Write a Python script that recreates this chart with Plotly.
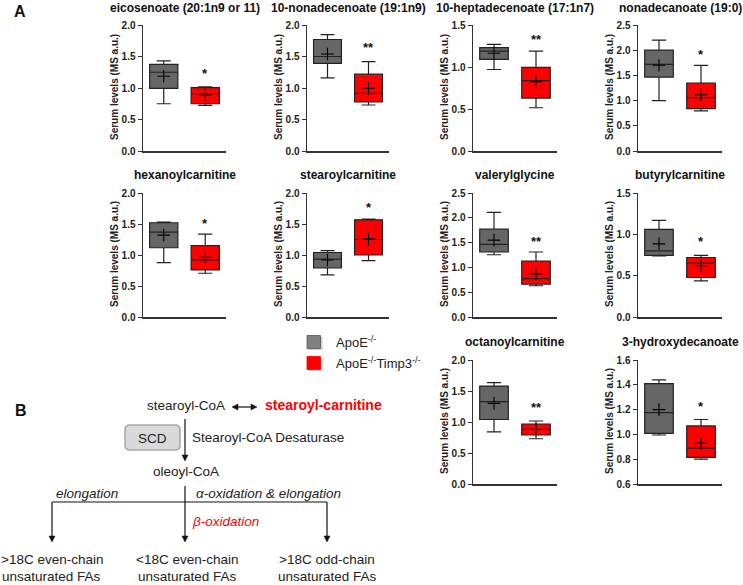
import plotly.graph_objects as go

# ---------------- data ----------------
titles = ["eicosenoate (20:1n9 or 11)", "10-nonadecenoate (19:1n9)", "10-heptadecenoate (17:1n7)",
          "nonadecanoate (19:0)", "hexanoylcarnitine", "stearoylcarnitine", "valerylglycine",
          "butyrylcarnitine", "octanoylcarnitine", "3-hydroxydecanoate"]

# ApoE-/- (grey)
apoe_lower  = [0.75, 1.16, 0.97, 1.00, 0.876, 0.68, 1.255, 0.738, 0.84, 0.995]
apoe_q1     = [0.995, 1.39, 1.09, 1.465, 1.117, 0.79, 1.31, 0.746, 1.04, 1.009]
apoe_median = [1.25, 1.50, 1.19, 1.72, 1.37, 0.935, 1.466, 0.80, 1.33, 1.175]
apoe_q3     = [1.376, 1.77, 1.23, 2.00, 1.52, 1.04, 1.77, 1.06, 1.58, 1.41]
apoe_upper  = [1.43, 1.846, 1.27, 2.20, 1.53, 1.07, 2.11, 1.168, 1.634, 1.439]
apoe_mean   = [1.186, 1.54, 1.163, 1.70, 1.32, 0.92, 1.55, 0.884, 1.30, 1.20]

# ApoE-/-Timp3-/- (red)
dko_lower  = [0.725, 0.73, 0.515, 0.795, 0.706, 0.91, 0.63, 0.438, 0.73, 0.80]
dko_q1     = [0.75, 0.78, 0.63, 0.84, 0.76, 1.00, 0.66, 0.478, 0.79, 0.815]
dko_median = [0.91, 0.915, 0.837, 1.06, 0.92, 1.25, 0.774, 0.653, 0.88, 0.89]
dko_q3     = [1.005, 1.22, 0.996, 1.345, 1.15, 1.567, 1.126, 0.72, 0.968, 1.068]
dko_upper  = [1.02, 1.42, 1.19, 1.70, 1.337, 1.58, 1.31, 0.746, 1.016, 1.12]
dko_mean   = [0.89, 0.995, 0.825, 1.115, 0.963, 1.26, 0.87, 0.62, 0.88, 0.93]

signif   = ["*", "**", "**", "*", "*", "*", "**", "*", "**", "*"]
signif_y = [1.30, 1.71, 1.37, 2.00, 1.58, 1.83, 1.61, 0.965, 1.30, 1.26]

y_min  = [0, 0, 0, 0, 0, 0, 0, 0, 0, 0.6]
y_max  = [2.0, 2.0, 1.5, 2.5, 2.0, 2.0, 2.5, 1.5, 2.0, 1.6]
y_step = [0.5, 0.5, 0.5, 0.5, 0.5, 0.5, 0.5, 0.5, 0.5, 0.2]

y_title = "Serum levels (MS a.u.)"
group_names = ["ApoE<sup>-/-</sup>", "ApoE<sup>-/-</sup>Timp3<sup>-/-</sup>"]

# ---------------- layout helpers ----------------
W, H = 743, 585
def px(x): return x / W
def py(y): return 1 - y / H

FONT = "Liberation Sans, Arial, sans-serif"
col_px = [(143, 226), (307, 389), (473, 557), (638, 722)]
row_px = [(25, 151), (193, 317), (360, 484)]
title_y = [8, 175, 342]
cells = [(0, 0), (0, 1), (0, 2), (0, 3), (1, 0), (1, 1), (1, 2), (1, 3), (2, 2), (2, 3)]

GREY = "#666666"
RED = "#ff0000"
EDGE = "#222222"
AXC = "#333333"

fig = go.Figure()
annotations = []
shapes = []
layout_axes = {}

for i, (r, c) in enumerate(cells):
    n = i + 1
    xa = "x" if n == 1 else f"x{n}"
    ya = "y" if n == 1 else f"y{n}"
    for xpos, col, st in [(0, GREY, (apoe_lower, apoe_q1, apoe_median, apoe_q3, apoe_upper, apoe_mean)),
                          (1, RED, (dko_lower, dko_q1, dko_median, dko_q3, dko_upper, dko_mean))]:
        lo, q1, med, q3, up, mn = st
        fig.add_trace(go.Box(x=[xpos], q1=[q1[i]], median=[med[i]], q3=[q3[i]],
                             lowerfence=[lo[i]], upperfence=[up[i]],
                             width=0.68, whiskerwidth=0.5, fillcolor=col,
                             line=dict(color=EDGE, width=1.2), boxpoints=False,
                             xaxis=xa, yaxis=ya, showlegend=False, hoverinfo="skip"))
        fig.add_trace(go.Scatter(x=[xpos], y=[mn[i]], mode="markers",
                                 marker=dict(symbol="cross-thin", size=9,
                                             line=dict(color="#000000", width=1.1)),
                                 xaxis=xa, yaxis=ya, showlegend=False, hoverinfo="skip"))
    x0, x1 = col_px[c]
    y0, y1 = row_px[r]
    ticks = []
    v = y_min[i]
    while v <= y_max[i] + 1e-9:
        ticks.append(round(v, 3))
        v += y_step[i]
    layout_axes["xaxis" if n == 1 else f"xaxis{n}"] = dict(
        domain=[px(x0), px(x1)], range=[-0.5, 1.5], showticklabels=False, ticks="",
        showline=True, linecolor=AXC, linewidth=1.5, showgrid=False, zeroline=False,
        anchor=ya, fixedrange=True, automargin=False)
    layout_axes["yaxis" if n == 1 else f"yaxis{n}"] = dict(
        domain=[py(y1), py(y0)], range=[y_min[i], y_max[i]], tickvals=ticks,
        ticktext=[f"{t:.1f}" for t in ticks], ticks="outside", ticklen=4, tickwidth=1,
        tickcolor=AXC, showline=True, linecolor=AXC, linewidth=1.5, showgrid=False,
        zeroline=False, anchor=xa, automargin=False, fixedrange=True,
        tickfont=dict(family=FONT, size=10, color="#222", weight="bold"))
    # y-axis title
    annotations.append(dict(text=y_title, xref="paper", yref="paper",
                            x=px(x0 - 29), y=py((y0 + y1) / 2 - 1), showarrow=False,
                            textangle=-90, xanchor="center", yanchor="middle",
                            font=dict(family=FONT, size=10, color="#222", weight="bold")))
    annotations.append(dict(text=titles[i], xref="paper", yref="paper",
                            x=px((x0 + x1) / 2), y=py(title_y[r]), showarrow=False,
                            xanchor="center", yanchor="middle",
                            font=dict(family=FONT, size=12, color="#111", weight="bold")))
    annotations.append(dict(text=signif[i], xref=xa, yref=ya, x=1, y=signif_y[i],
                            showarrow=False, xanchor="center", yanchor="middle", yshift=-4,
                            font=dict(family=FONT, size=13, color="#111", weight="bold")))

# ---------------- panel letters ----------------
annotations.append(dict(text="A", xref="paper", yref="paper", x=px(20), y=py(11), showarrow=False,
                        xanchor="center", yanchor="middle",
                        font=dict(family=FONT, size=16, color="#111", weight="bold")))
annotations.append(dict(text="B", xref="paper", yref="paper", x=px(21), y=py(411), showarrow=False,
                        xanchor="center", yanchor="middle",
                        font=dict(family=FONT, size=16, color="#111", weight="bold")))

# ---------------- legend ----------------
for k, (col, yc) in enumerate([("#808080", 342), (RED, 363)]):
    shapes.append(dict(type="rect", xref="paper", yref="paper",
                       x0=px(308.5), x1=px(322.5), y0=py(yc + 8), y1=py(yc - 5),
                       fillcolor="#cfcfcf", line=dict(width=0), layer="below"))
    shapes.append(dict(type="rect", xref="paper", yref="paper",
                       x0=px(307), x1=px(320.5), y0=py(yc + 6.5), y1=py(yc - 6.5),
                       fillcolor=col, line=dict(color="#555" if k == 0 else RED, width=0.8)))
    annotations.append(dict(text=group_names[k], xref="paper", yref="paper", x=px(334), y=py(yc),
                            showarrow=False, xanchor="left", yanchor="middle",
                            font=dict(family=FONT, size=13, color="#222")))

# ---------------- diagram B ----------------
DFS = 13.5
def txt(s, x, y, anchor="center", color="#222", size=DFS, italic=False, bold=False):
    annotations.append(dict(text=s, xref="paper", yref="paper", x=px(x), y=py(y), showarrow=False,
                            xanchor=anchor, yanchor="middle",
                            font=dict(family=FONT, size=size, color=color,
                                      style="italic" if italic else "normal",
                                      weight="bold" if bold else "normal")))

def line(xa_, ya_, xb_, yb_):
    shapes.append(dict(type="line", xref="paper", yref="paper", x0=px(xa_), x1=px(xb_),
                       y0=py(ya_), y1=py(yb_), line=dict(color="#111", width=1.2)))

def head(xh, yh, direction):
    L, hw = 6, 3
    if direction == "down":
        pts = [(xh, yh), (xh - hw, yh - L), (xh + hw, yh - L)]
    elif direction == "left":
        pts = [(xh, yh), (xh + L, yh - hw), (xh + L, yh + hw)]
    else:
        pts = [(xh, yh), (xh - L, yh - hw), (xh - L, yh + hw)]
    path = "M " + " L ".join(f"{px(a)},{py(b)}" for a, b in pts) + " Z"
    shapes.append(dict(type="path", xref="paper", yref="paper", path=path,
                       fillcolor="#111", line=dict(color="#111", width=0.5)))

txt("stearoyl-CoA", 186, 405)
line(234, 407, 255, 407)
head(232, 407, "left")
head(257, 407, "right")
txt("stearoyl-carnitine", 263, 405, anchor="left", color=RED, size=14, bold=True)

# SCD rounded box
x0b, x1b, y0b, y1b, rr = 125, 180, 425, 450, 5
path = (f"M {px(x0b+rr)},{py(y0b)} L {px(x1b-rr)},{py(y0b)} Q {px(x1b)},{py(y0b)} {px(x1b)},{py(y0b+rr)} "
        f"L {px(x1b)},{py(y1b-rr)} Q {px(x1b)},{py(y1b)} {px(x1b-rr)},{py(y1b)} "
        f"L {px(x0b+rr)},{py(y1b)} Q {px(x0b)},{py(y1b)} {px(x0b)},{py(y1b-rr)} "
        f"L {px(x0b)},{py(y0b+rr)} Q {px(x0b)},{py(y0b)} {px(x0b+rr)},{py(y0b)} Z")
shapes.append(dict(type="path", xref="paper", yref="paper", path=path,
                   fillcolor="#d9d9d9", line=dict(color="#a6a6a6", width=1.5)))
txt("SCD", 152.5, 438)
line(185, 419, 185, 456)
head(185, 461, "down")
txt("Stearoyl-CoA Desaturase", 190, 437, anchor="left")
txt("oleoyl-CoA", 186, 471)

# branching lines
line(52, 502, 327, 502)
line(52, 502, 52, 537)
head(52, 542, "down")
line(327, 502, 327, 537)
head(327, 542, "down")
line(185, 486, 185, 537)
head(185, 542, "down")

txt("elongation", 87, 493, italic=True)
txt("α-oxidation &amp; elongation", 268, 493, italic=True)
txt("β-oxidation", 225, 521, color=RED, italic=True)

for cx, l1 in [(52, ">18C even-chain"), (187, "<18C even-chain"), (327, ">18C odd-chain")]:
    txt(l1.replace("<", "&lt;").replace(">", "&gt;"), cx, 559)
    txt("unsaturated FAs", cx, 576)

fig.update_layout(width=W, height=H, margin=dict(l=0, r=0, t=0, b=0, autoexpand=False),
                  paper_bgcolor="white", plot_bgcolor="white", showlegend=False,
                  boxmode="overlay", annotations=annotations, shapes=shapes,
                  font=dict(family=FONT), hovermode=False, **layout_axes)

fig.write_html("out.html", config={"displayModeBar": False, "staticPlot": True},
               post_script="document.body.style.margin='0';document.body.style.overflow='hidden';")
